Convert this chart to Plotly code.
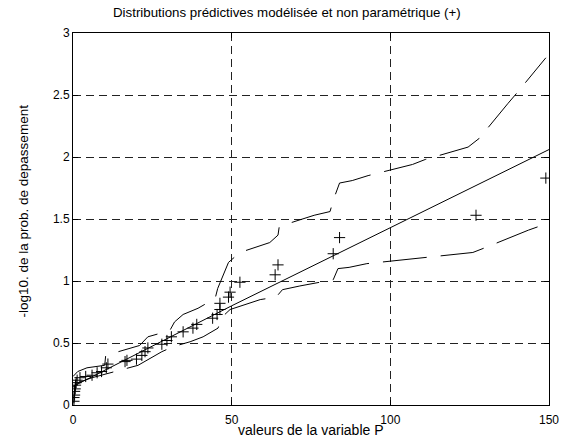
import plotly.graph_objects as go

# Fitted (modelled) predictive distribution
fit_x = [0, 10, 20, 30, 40, 50, 75, 100, 125, 150]
fit_y = [0.15, 0.28, 0.41, 0.54, 0.67, 0.80, 1.115, 1.43, 1.745, 2.06]

# Upper confidence band
upper_x = [0, 1.5, 4.4, 10.0, 10.3, 21.0, 23.6, 28.0, 30.5, 32.0, 34.7, 39.4, 44.8, 45.6,
           47.0, 49.0, 52.6, 62.0, 64.6, 65.0, 76.0, 81.0, 82.0, 84.0, 88.0, 93.0, 107.0,
           111.0, 124.5, 128.0, 137.0, 140.0, 149.0]
upper_y = [0.23, 0.27, 0.30, 0.32, 0.40, 0.48, 0.55, 0.58, 0.60, 0.67, 0.73, 0.78, 0.86, 0.94,
           1.03, 1.15, 1.23, 1.31, 1.37, 1.44, 1.53, 1.56, 1.65, 1.79, 1.81, 1.85, 1.94,
           1.98, 2.08, 2.15, 2.43, 2.52, 2.80]

# Lower confidence band
lower_x = [0, 1.5, 6.0, 12.0, 15.0, 20.5, 28.0, 31.5, 36.9, 41.0, 45.7, 47.0, 49.5, 54.0,
           59.0, 64.0, 66.0, 71.5, 76.0, 82.0, 83.5, 87.0, 92.6, 107.0, 111.5, 126.0, 130.0,
           143.5, 149.0]
lower_y = [0.14, 0.18, 0.22, 0.26, 0.28, 0.32, 0.43, 0.47, 0.51, 0.55, 0.62, 0.71, 0.77, 0.81,
           0.85, 0.87, 0.93, 0.96, 0.98, 1.01, 1.10, 1.11, 1.14, 1.18, 1.19, 1.23, 1.27,
           1.41, 1.46]

# Non-parametric (empirical) distribution
emp_x = [0.3, 0.3, 0.5, 0.5, 0.7, 0.8, 1.0, 1.3, 2.2, 4.0, 6.0, 7.6, 9.0, 10.5, 11.0, 16.4,
         17.0, 20.0, 21.7, 22.7, 23.6, 28.0, 29.6, 31.0, 34.7, 37.8, 39.0, 44.0, 45.4, 46.3,
         46.3, 49.0, 49.5, 52.6, 63.7, 64.6, 82.0, 84.0, 127.0, 149.0]
emp_y = [0.03, 0.06, 0.08, 0.11, 0.13, 0.16, 0.18, 0.20, 0.22, 0.23, 0.24, 0.26, 0.27, 0.30,
         0.33, 0.35, 0.36, 0.37, 0.40, 0.43, 0.46, 0.49, 0.52, 0.55, 0.59, 0.62, 0.65, 0.70,
         0.73, 0.77, 0.82, 0.87, 0.91, 0.99, 1.05, 1.13, 1.22, 1.35, 1.53, 1.83]

x_ticks = [0, 50, 100, 150]
y_ticks = [0, 0.5, 1, 1.5, 2, 2.5, 3]
y_tick_text = ["0", "0.5", "1", "1.5", "2", "2.5", "3"]

band_line = dict(color="black", width=1, dash="44px,14px")

fig = go.Figure()
fig.add_trace(go.Scatter(x=fit_x, y=fit_y, mode="lines",
                         line=dict(color="black", width=1)))
fig.add_trace(go.Scatter(x=upper_x, y=upper_y, mode="lines", line=band_line))
fig.add_trace(go.Scatter(x=lower_x, y=lower_y, mode="lines", line=band_line))
fig.add_trace(go.Scatter(x=emp_x, y=emp_y, mode="markers",
                         marker=dict(symbol="cross-thin", size=8,
                                     line=dict(color="black", width=1))))

font = "Liberation Sans, Arial, sans-serif"
axis_common = dict(showline=True, linecolor="black", linewidth=1, mirror="ticks",
                   ticks="inside", ticklen=5, tickcolor="black",
                   showgrid=True, gridcolor="#222", gridwidth=1, griddash="8px,5px",
                   zeroline=False, tickfont=dict(family=font, size=12, color="black"))

fig.update_layout(
    width=572, height=445,
    margin=dict(l=73, r=23, t=33, b=40),
    paper_bgcolor="white", plot_bgcolor="white",
    showlegend=False,
    xaxis=dict(range=[0, 150], tickvals=x_ticks, ticktext=[str(v) for v in x_ticks],
               ticklabelstandoff=4, **axis_common),
    yaxis=dict(range=[0, 3], tickvals=y_ticks, ticktext=y_tick_text, **axis_common),
    annotations=[
        dict(text="Distributions prédictives modélisée et non paramétrique (+)",
             x=0.5, y=1, xref="paper", yref="paper", xshift=-24, yshift=30, showarrow=False,
             font=dict(family=font, size=13.3, color="black")),
        dict(text="valeurs de la variable P", x=0.5, y=0, xref="paper", yref="paper",
             yshift=-35, showarrow=False, font=dict(family=font, size=14, color="black")),
        dict(text="-log10. de la prob. de depassement", x=0, y=0.5, xref="paper",
             yref="paper", xshift=-60, yshift=8, textangle=-90, showarrow=False,
             font=dict(family=font, size=13.5, color="black")),
    ],
)

fig.write_html("out.html")
